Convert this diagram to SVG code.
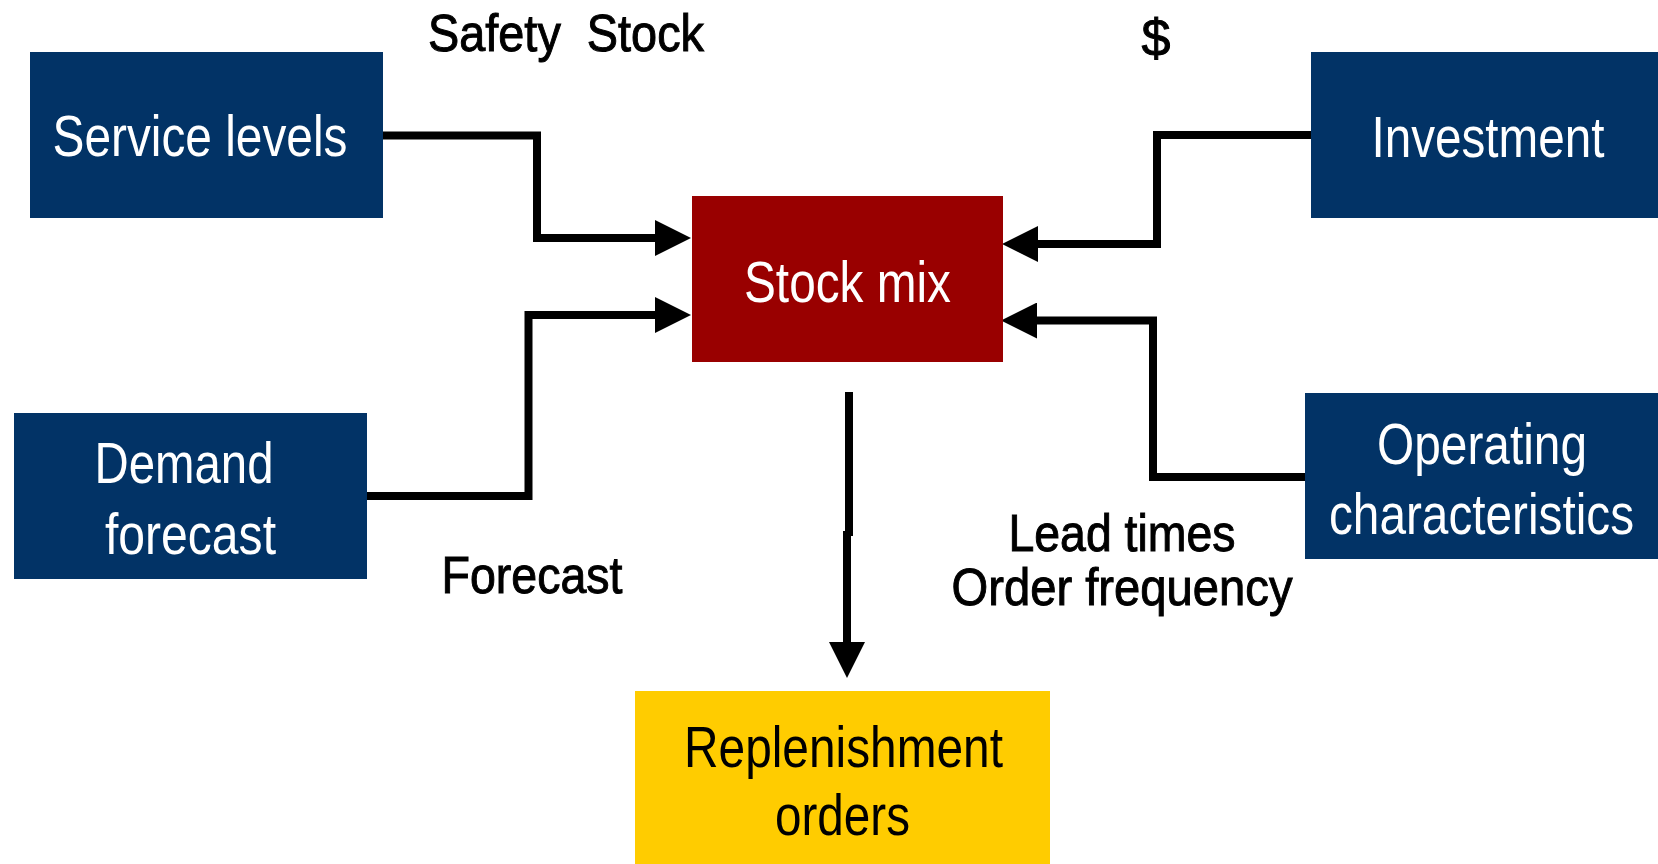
<svg xmlns="http://www.w3.org/2000/svg" width="1658" height="864" viewBox="0 0 1658 864">
<style>
.navy{fill:#023366}
.wt{fill:#ffffff;font-family:"Liberation Sans Narrow","Liberation Sans",Arial,sans-serif;font-size:58px;text-anchor:middle}
.bt{fill:#000000;stroke:#000000;stroke-width:1;font-family:"Liberation Sans Narrow","Liberation Sans",Arial,sans-serif;font-size:52px;text-anchor:middle}
.dk{fill:#000000;font-family:"Liberation Sans Narrow","Liberation Sans",Arial,sans-serif;font-size:58px;text-anchor:middle}
.conn{fill:none;stroke:#000;stroke-width:8;stroke-linejoin:miter}
</style>
<defs>
<marker id="ah" markerUnits="userSpaceOnUse" markerWidth="36" markerHeight="36" viewBox="0 0 36 36" refX="0" refY="18" orient="auto">
<path d="M0,0 L36,18 L0,36 Z" fill="#000"/>
</marker>
</defs>
<rect width="1658" height="864" fill="#ffffff"/>
<g id="connectors">
<path class="conn" d="M383,135.5 H537 V238 H655" marker-end="url(#ah)"/>
<path class="conn" d="M367,496 H528.5 V315 H655" marker-end="url(#ah)"/>
<path class="conn" d="M1311,135 H1157 V244 H1038" marker-end="url(#ah)"/>
<path class="conn" d="M1305,477 H1153 V320.5 H1037" marker-end="url(#ah)"/>
<path class="conn" d="M849,392 V536"/>
<path class="conn" d="M847,531 V642" marker-end="url(#ah)"/>
</g>
<g id="labels">
<text class="bt" x="566" y="51" textLength="276" lengthAdjust="spacingAndGlyphs" xml:space="preserve">Safety  Stock</text>
<text class="bt" x="1156" y="56">$</text>
<text class="bt" x="532" y="592.7" textLength="181" lengthAdjust="spacingAndGlyphs">Forecast</text>
<text class="bt" x="1122" y="551" textLength="227" lengthAdjust="spacingAndGlyphs">Lead times</text>
<text class="bt" x="1122" y="605" textLength="341" lengthAdjust="spacingAndGlyphs">Order frequency</text>
</g>
<g id="service-levels">
<rect class="navy" x="30" y="52" width="353" height="166"/>
<text class="wt" x="200" y="156" textLength="295" lengthAdjust="spacingAndGlyphs">Service levels</text>
</g>
<g id="demand-forecast">
<rect class="navy" x="14" y="413" width="353" height="166"/>
<text class="wt" x="184" y="483.3" textLength="179" lengthAdjust="spacingAndGlyphs">Demand</text>
<text class="wt" x="190.5" y="554" textLength="171" lengthAdjust="spacingAndGlyphs">forecast</text>
</g>
<g id="stock-mix">
<rect x="692" y="196" width="311" height="166" fill="#990000"/>
<text class="wt" x="847.5" y="301.7" textLength="207" lengthAdjust="spacingAndGlyphs">Stock mix</text>
</g>
<g id="investment">
<rect class="navy" x="1311" y="52" width="347" height="166"/>
<text class="wt" x="1488" y="156.7" textLength="233" lengthAdjust="spacingAndGlyphs">Investment</text>
</g>
<g id="operating-characteristics">
<rect class="navy" x="1305" y="393" width="353" height="166"/>
<text class="wt" x="1482" y="464" textLength="210" lengthAdjust="spacingAndGlyphs">Operating</text>
<text class="wt" x="1481.5" y="534.3" textLength="305" lengthAdjust="spacingAndGlyphs">characteristics</text>
</g>
<g id="replenishment-orders">
<rect x="635" y="691" width="415" height="173" fill="#ffcc00"/>
<text class="dk" x="843.5" y="767.3" textLength="319" lengthAdjust="spacingAndGlyphs">Replenishment</text>
<text class="dk" x="842.5" y="835" textLength="135" lengthAdjust="spacingAndGlyphs">orders</text>
</g>
</svg>
